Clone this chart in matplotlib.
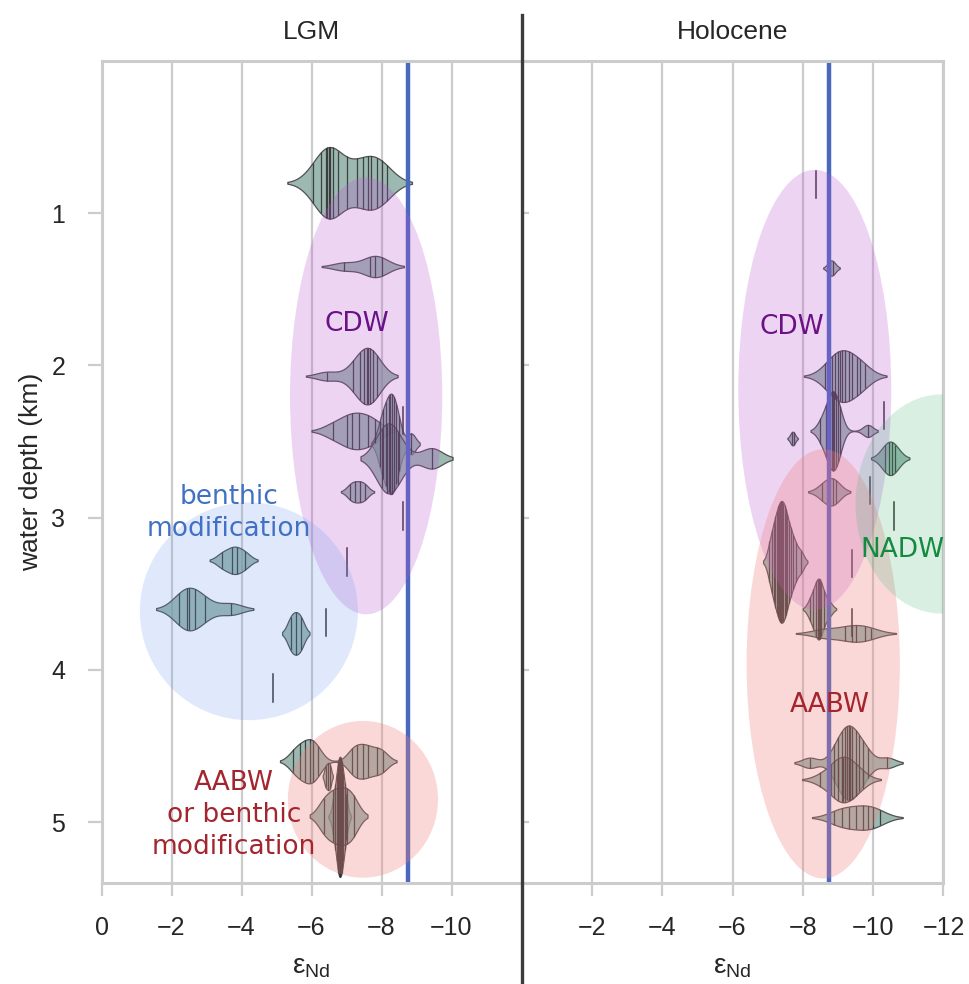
import numpy as np
import matplotlib
matplotlib.use("Agg")
import matplotlib.pyplot as plt
from matplotlib.patches import Ellipse
from matplotlib.lines import Line2D

# ---------------- data ----------------
panels = ["LGM", "Holocene"]
reference_end_member = -8.75  # vertical reference line (eNd)

# LGM violins: site depth (km) and eNd samples
lgm_depths = [0.80, 1.35, 2.07, 2.43, 2.515, 2.61, 2.83, 3.28, 3.60, 3.76, 4.60, 4.70, 4.965, 4.96]
lgm_values = [
    [-6.03, -6.27, -6.42, -6.45, -6.5, -6.53, -6.6, -6.77, -7.0, -7.29, -7.48, -7.62, -7.69,
     -7.88, -8.0, -8.15],
    [-6.93, -7.67, -7.81, -8.0],
    [-6.44, -7.19, -7.39, -7.5, -7.58, -7.62, -7.67, -7.75, -7.86],
    [-6.6, -7.0, -7.15, -7.35, -7.6, -7.8],
    [-7.95, -8.05, -8.12, -8.2, -8.25, -8.3, -8.35, -8.42, -8.5, -8.85],
    [-8.0, -8.15, -8.24, -8.47, -9.43],
    [-7.1, -7.24, -7.39, -7.53],
    [-3.45, -3.72, -3.86, -4.1],
    [-2.2, -2.43, -2.5, -2.67, -2.96, -3.7],
    [-5.4, -5.55, -5.7],
    [-5.48, -5.67, -5.81, -5.96, -6.04, -6.19, -7.15, -7.29, -7.48, -7.62, -7.86, -8.05],
    [-6.4, -6.47, -6.53],
    [-6.62, -6.68, -6.72, -6.75, -6.77, -6.79, -6.8, -6.82, -6.84, -6.86, -6.88, -6.91, -6.95, -6.99],
    [-6.35, -6.6, -6.8, -7.0, -7.2],
]
lgm_single_depths = [2.36, 2.99, 3.29, 3.69, 4.12]
lgm_single_values = [-8.6, -8.6, -7.0, -6.4, -4.89]

# Holocene violins
holo_depths = [1.36, 2.07, 2.43, 2.48, 2.61, 2.83, 3.29, 3.60, 3.76, 4.61, 4.72, 4.97]
holo_values = [
    [-8.78, -8.85],
    [-8.63, -8.83, -8.92, -9.01, -9.06, -9.11, -9.2, -9.3, -9.4, -9.54, -9.63, -9.78],
    [-8.5, -8.65, -8.72, -8.78, -8.82, -8.86, -8.9, -8.95, -9.0, -9.05, -9.85],
    [-7.68, -7.74],
    [-10.34, -10.44, -10.53, -10.63],
    [-8.55, -8.75, -8.85, -8.95],
    [-7.05, -7.12, -7.18, -7.22, -7.26, -7.3, -7.33, -7.36, -7.39, -7.42, -7.45, -7.48,
     -7.51, -7.55, -7.6, -7.65, -7.72, -7.8, -7.95],
    [-8.2, -8.3, -8.38, -8.42, -8.45, -8.48, -8.52, -8.6, -8.75],
    [-8.5, -8.72, -9.2, -9.4, -9.5, -9.78, -9.95],
    [-8.2, -8.9, -9.0, -9.1, -9.2, -9.25, -9.3, -9.35, -9.4, -9.5, -9.6, -9.7, -9.85, -10.4],
    [-8.5, -8.8, -8.9, -9.0, -9.1, -9.15, -9.2, -9.3, -9.4, -9.5, -9.7],
    [-8.9, -9.1, -9.3, -9.5, -9.7, -9.85, -10.0, -10.2],
]
holo_single_depths = [0.81, 2.33, 2.82, 2.99, 3.30, 3.69]
holo_single_values = [-8.38, -10.3, -9.9, -10.6, -9.4, -9.4]

# water-mass regions: (label, centre eNd, centre depth, eNd span, depth span)
lgm_regions = [("CDW", -7.56, 2.20, 4.35, 2.87),
               ("benthic", -4.21, 3.615, 6.23, 1.43),
               ("AABW", -7.47, 4.85, 4.29, 1.03)]
holo_regions = [("CDW", -8.34, 2.16, 4.35, 2.89),
                ("AABW", -8.58, 3.96, 4.36, 2.82),
                ("NADW", -11.95, 2.91, 4.9, 1.44)]

lgm_labels = [("CDW", -7.31, 1.73, "CDW"),
              ("benthic\nmodification", -3.64, 2.97, "benthic"),
              ("AABW\nor benthic\nmodification", -3.79, 4.95, "AABW")]
holo_labels = [("CDW", -7.70, 1.75, "CDW"),
               ("NADW", -10.84, 3.21, "NADW"),
               ("AABW", -8.78, 4.23, "AABW")]

depth_ticks = [1, 2, 3, 4, 5]
lgm_xticks = [0, -2, -4, -6, -8, -10]
holo_xticks = [-2, -4, -6, -8, -10, -12]

# ---------------- styles ----------------
lgm_halfwidth = [0.235, 0.07, 0.186, 0.12, 0.33, 0.23, 0.07, 0.09, 0.14, 0.14, 0.145, 0.09, 0.395, 0.19]
lgm_bw = [0.36, 0.32, 0.3, 0.3, 0.12, 0.3, 0.13, 0.18, 0.32, 0.12, 0.19, 0.04, 0.07, 0.2]
holo_halfwidth = [0.05, 0.17, 0.26, 0.045, 0.11, 0.09, 0.40, 0.20, 0.055, 0.245, 0.15, 0.08]
holo_bw = [0.1, 0.3, 0.14, 0.06, 0.2, 0.2, 0.09, 0.1, 0.35, 0.22, 0.26, 0.32]
single_half = 0.09

region_colors = {"CDW": ("#ba55d3", 0.25), "benthic": ("#6495ed", 0.2),
                 "AABW": ("#f08080", 0.3), "NADW": ("#3cb371", 0.2)}
text_colors = {"CDW": "#6b1186", "benthic": "#4271c4", "AABW": "#a3262f", "NADW": "#148a40"}

violin_face = (0.45, 0.61, 0.57, 0.7)
violin_edge = "#505050"
stick_color = "#333333"
grid_color = "#cccccc"
text_dark = "#262626"

plt.rcParams["font.family"] = ["Liberation Sans", "DejaVu Sans"]
plt.rcParams["mathtext.fontset"] = "custom"
plt.rcParams["mathtext.rm"] = "Liberation Sans"
plt.rcParams["mathtext.it"] = "Liberation Sans"

fig = plt.figure(figsize=(9.7, 9.84), dpi=100)
ax_l = fig.add_axes([0.10464, 0.1026, 0.43299, 0.8354])
ax_r = fig.add_axes([0.53763, 0.1026, 0.43505, 0.8354])


def draw_violin(ax, depth, vals, half, bw):
    vals = np.asarray(vals, dtype=float)
    xs = np.linspace(vals.min() - 2 * bw, vals.max() + 2 * bw, 400)
    dens = np.exp(-0.5 * ((xs[:, None] - vals[None, :]) / bw) ** 2).sum(axis=1)
    w = dens / dens.max() * half
    ax.fill_between(xs, depth - w, depth + w, facecolor=violin_face,
                    edgecolor=violin_edge, linewidth=0.9, zorder=2)
    wv = np.interp(vals, xs, w)
    for v, h in zip(vals, wv):
        ax.plot([v, v], [depth - h, depth + h], color=stick_color, lw=0.9,
                alpha=0.9, zorder=2.1, solid_capstyle="butt")


def setup(ax, title, xticks, regions, labels, depths, values, halfs, bws, sdepths, svals):
    ax.set_xlim(0, -12)
    ax.set_ylim(5.4, 0)
    ax.set_xticks(xticks)
    ax.set_yticks(depth_ticks)
    ax.grid(axis="x", color=grid_color, lw=1.6, zorder=0)
    ax.set_axisbelow(True)
    for s in ax.spines.values():
        s.set_color(grid_color)
        s.set_linewidth(2.2)
    ax.tick_params(axis="x", length=9, width=1.6, color=grid_color, labelsize=18,
                   labelcolor=text_dark, pad=15)
    ax.set_title(title, fontsize=19, color=text_dark, pad=16)
    ax.set_xlabel("ε$_{\\mathrm{Nd}}$", fontsize=20, color=text_dark, labelpad=10)
    for d, v, h, b in zip(depths, values, halfs, bws):
        draw_violin(ax, d, v, h, b)
    for d, v in zip(sdepths, svals):
        ax.plot([v, v], [d - single_half, d + single_half], color=stick_color, lw=1.1, zorder=2.1)
    ax.axvline(reference_end_member, color="#4a69bd", lw=3.2, zorder=2.5)
    for key, cx, cy, w, h in regions:
        col, a = region_colors[key]
        ax.add_patch(Ellipse((cx, cy), w, h, facecolor=col, alpha=a, edgecolor="none", zorder=3))
    for txt, x, y, key in labels:
        ax.text(x, y, txt, ha="center", va="center", fontsize=19, color=text_colors[key],
                family="DejaVu Sans", linespacing=1.3, zorder=5)


setup(ax_l, panels[0], lgm_xticks, lgm_regions, lgm_labels, lgm_depths, lgm_values,
      lgm_halfwidth, lgm_bw, lgm_single_depths, lgm_single_values)
setup(ax_r, panels[1], holo_xticks, holo_regions, holo_labels, holo_depths, holo_values,
      holo_halfwidth, holo_bw, holo_single_depths, holo_single_values)

ax_l.spines["right"].set_visible(False)
ax_l.tick_params(axis="y", length=10, width=1.6, color=grid_color, labelsize=18,
                 labelcolor=text_dark, pad=16)
ax_l.set_ylabel("water depth (km)", fontsize=19, color=text_dark, labelpad=6)
ax_r.spines["left"].set_visible(False)
ax_r.tick_params(axis="y", direction="in", length=5, width=1.6, color=grid_color,
                 labelleft=False)

# dark divider between the panels
xdiv = 0.53763
fig.add_artist(Line2D([xdiv, xdiv], [0.0, 0.985], transform=fig.transFigure,
                      color="#3c3c3c", lw=2.4))

fig.savefig("out.png", dpi=100)
